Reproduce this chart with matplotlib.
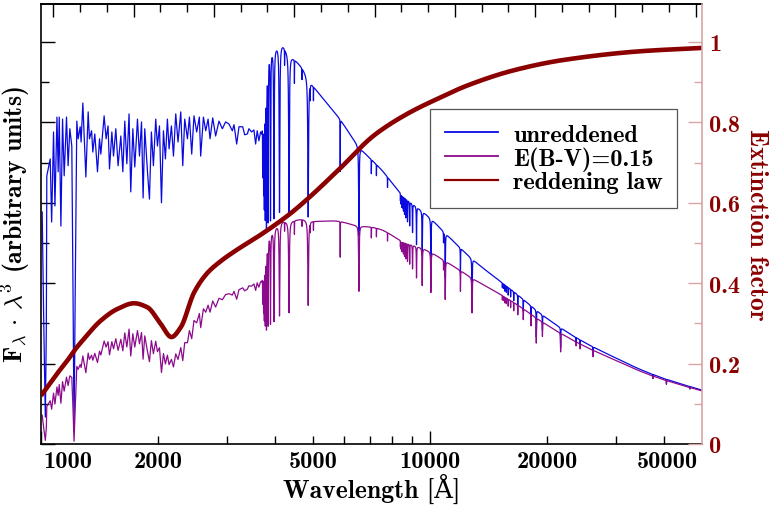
import numpy as np
import matplotlib.pyplot as plt
from matplotlib.ticker import FixedLocator, FuncFormatter, NullFormatter
from matplotlib.lines import Line2D

plt.rcParams['font.family'] = ['cmb10', 'DejaVu Serif']
plt.rcParams['mathtext.fontset'] = 'cm'
plt.rcParams['axes.unicode_minus'] = False
plt.rcParams['axes.formatter.use_mathtext'] = True

BLUE = '#0a0ae0'
PURPLE = '#8c0a8c'
DARKRED = '#8b0000'
PINK = '#d8a4a4'
FS_TICK = 17.5
FS_LABEL = 18.5

# --- UV part of the model spectrum (F_lambda * lambda^3), hand traced vertices
uv_wave = [1007, 1017, 1026, 1032, 1035, 1056, 1065, 1077, 1086, 1099, 1107, 1114,
           1125, 1136, 1147, 1163, 1174, 1186, 1200, 1209, 1216, 1224, 1236, 1246,
           1261, 1268, 1281, 1291, 1304, 1322, 1332, 1349, 1359, 1375, 1397, 1414,
           1425, 1453, 1470, 1487, 1500, 1521, 1536, 1557, 1578, 1604, 1623, 1642,
           1662, 1684, 1701, 1722, 1742, 1770, 1791, 1813, 1830, 1848, 1878, 1900,
           1922, 1945, 1972, 1992, 2016, 2040, 2064, 2088, 2113, 2134, 2164, 2190,
           2220, 2250, 2287, 2314, 2341, 2379, 2407, 2440, 2473, 2513, 2553, 2573,
           2615, 2651, 2688, 2719, 2763, 2811, 2867, 2925, 2982, 3041, 3103, 3134,
           3184, 3228, 3299, 3338, 3391, 3423, 3478, 3526, 3562, 3595, 3631, 3668,
           3700]
uv_flux = [0.577, 0.286, 0.067, 0.286, 0.667, 0.709, 0.552, 0.776, 0.592, 0.813, 0.677, 0.813,
           0.542, 0.808, 0.667, 0.813, 0.692, 0.784, 0.741, 0.361, 0.030, 0.361, 0.803, 0.759,
           0.789, 0.751, 0.848, 0.766, 0.664, 0.826, 0.759, 0.779, 0.726, 0.771, 0.677, 0.759,
           0.721, 0.816, 0.759, 0.791, 0.684, 0.776, 0.716, 0.784, 0.692, 0.766, 0.677, 0.803,
           0.697, 0.821, 0.627, 0.784, 0.689, 0.808, 0.716, 0.801, 0.612, 0.784, 0.677, 0.609,
           0.776, 0.692, 0.808, 0.741, 0.791, 0.600, 0.779, 0.709, 0.808, 0.734, 0.791, 0.716,
           0.821, 0.751, 0.826, 0.692, 0.808, 0.759, 0.813, 0.721, 0.816, 0.776, 0.813, 0.716,
           0.813, 0.779, 0.808, 0.759, 0.811, 0.766, 0.803, 0.784, 0.801, 0.796, 0.779, 0.794,
           0.746, 0.789, 0.789, 0.769, 0.771, 0.784, 0.776, 0.781, 0.746, 0.779, 0.754, 0.776,
           0.770]

# --- optical / IR continuum and absorption lines
cont_wave = [3700, 3740, 3780, 3820, 3860, 3950, 4150, 4300, 4650, 5000, 5820, 6563,
             7530, 8440, 10000, 11000, 12940, 16400, 20000, 24300, 30000, 35800, 42000, 50000]
cont_flux = [0.785, 0.81, 0.87, 0.935, 0.975, 0.985, 0.995, 0.975, 0.94, 0.892, 0.812, 0.74,
             0.68, 0.622, 0.562, 0.522, 0.457, 0.379, 0.312, 0.259, 0.214, 0.180, 0.156, 0.134]

line_wave = [3712, 3722, 3734, 3750, 3771, 3798, 3835, 3889, 3970, 4102, 4227, 4340,
             4481, 4686, 4861, 4921, 5015, 5876, 6563, 7065, 7281, 7774,
             8392, 8413, 8438, 8467, 8502, 8545, 8598, 8665, 8750, 8863, 9015, 9229,
             9546, 10049, 10830, 10938, 11970, 12818,
             15341, 15439, 15556, 15701, 15881, 16109, 16407, 16806, 17362, 18174,
             18751, 19445, 21655, 23740, 24310, 26252, 37395, 40512, 46525]
line_depth = [0.12, 0.16, 0.22, 0.28, 0.34, 0.40, 0.42, 0.43, 0.43, 0.42, 0.04, 0.41,
              0.06, 0.03, 0.38, 0.04, 0.04, 0.16, 0.30, 0.05, 0.04, 0.04,
              0.03, 0.04, 0.04, 0.05, 0.05, 0.06, 0.07, 0.08, 0.09, 0.10, 0.12, 0.16,
              0.19, 0.21, 0.05, 0.21, 0.12, 0.21,
              0.03, 0.03, 0.04, 0.04, 0.05, 0.05, 0.06, 0.07, 0.08, 0.09,
              0.20, 0.12, 0.17, 0.04, 0.05, 0.07, 0.04, 0.06, 0.03]
line_width = [1.5, 1.8, 2.2, 2.6, 3, 3.5, 4.5, 5.5, 7, 9, 2, 10,
              2, 2, 12, 2, 2, 2.5, 12, 3, 3, 3,
              4, 4, 4, 4, 5, 5, 5, 6, 7, 8, 9, 10,
              12, 14, 6, 15, 10, 18,
              8, 8, 8, 9, 9, 10, 10, 12, 12, 14,
              18, 16, 20, 12, 12, 18, 20, 25, 25]

# --- extinction factor for E(B-V)=0.15
ext_wave = [1000, 1100, 1170, 1217, 1291, 1425, 1573, 1735, 1877, 2030, 2164, 2286,
            2475, 2675, 2900, 3200, 3600, 3970, 4400, 4837, 5893, 7166, 8733, 10640,
            12500, 16500, 22000, 35000, 50000]
ext_factor = [0.120, 0.175, 0.208, 0.232, 0.262, 0.307, 0.336, 0.350, 0.340, 0.299, 0.266, 0.290,
              0.377, 0.425, 0.455, 0.484, 0.515, 0.543, 0.575, 0.609, 0.687, 0.767, 0.821, 0.862,
              0.892, 0.930, 0.955, 0.977, 0.985]


def pchip(x, y, xn):
    # monotone cubic (Fritsch-Carlson) through the knots
    x = np.asarray(x, float)
    y = np.asarray(y, float)
    h = np.diff(x)
    d = np.diff(y) / h
    m = np.zeros_like(y)
    m[0], m[-1] = d[0], d[-1]
    for k in range(1, len(x) - 1):
        if d[k - 1] * d[k] > 0:
            w1 = 2 * h[k] + h[k - 1]
            w2 = h[k] + 2 * h[k - 1]
            m[k] = (w1 + w2) / (w1 / d[k - 1] + w2 / d[k])
    i = np.clip(np.searchsorted(x, xn) - 1, 0, len(x) - 2)
    t = (xn - x[i]) / h[i]
    h00 = 2 * t**3 - 3 * t**2 + 1
    h10 = t**3 - 2 * t**2 + t
    h01 = -2 * t**3 + 3 * t**2
    h11 = t**3 - t**2
    return h00 * y[i] + h10 * h[i] * m[i] + h01 * y[i + 1] + h11 * h[i] * m[i + 1]


def ext_at(w):
    return pchip(np.log10(ext_wave), ext_factor, np.log10(w))


# build the full spectrum
opt_wave = np.geomspace(3705, 50000, 14000)
opt_flux = pchip(np.log10(cont_wave), cont_flux, np.log10(opt_wave))
for w0, dep, g in zip(line_wave, line_depth, line_width):
    opt_flux *= 1 - dep / (1 + ((opt_wave - w0) / g) ** 2)

wave = np.concatenate([uv_wave, opt_wave])
flux = np.concatenate([uv_flux, opt_flux])
reddened = flux * ext_at(wave)
law_wave = np.geomspace(1000, 50000, 1500)

fig = plt.figure(figsize=(7.76, 5.10), dpi=100)
ax = fig.add_axes([41 / 776, 65 / 510, 661 / 776, 440.3 / 510])
ax.plot(wave, flux, color=BLUE, lw=0.9)
ax.plot(wave, reddened, color=PURPLE, lw=0.9)
ax.set_xscale('log')
ax.set_xlim(1000, 50000)
ax.set_ylim(0, 1.095)

axr = ax.twinx()
axr.plot(law_wave, ext_at(law_wave), color=DARKRED, lw=3.3, solid_capstyle='butt')
axr.set_ylim(0, 1.095)

# x axis ticks
ax.xaxis.set_major_locator(FixedLocator([1000, 10000]))
ax.xaxis.set_minor_locator(FixedLocator([2000, 3000, 4000, 5000, 6000, 7000, 8000, 9000,
                                         20000, 30000, 40000]))
xlabels = {2000: '2000', 5000: '5000', 10000: '10000', 20000: '20000'}
fmt = FuncFormatter(lambda v, p: xlabels.get(int(round(v)), ''))
ax.xaxis.set_major_formatter(fmt)
ax.xaxis.set_minor_formatter(fmt)
ax.tick_params(axis='x', which='major', direction='in', length=9.5, width=1,
               labelsize=FS_TICK, pad=4)
ax.tick_params(axis='x', which='minor', direction='in', length=5.5, width=1,
               labelsize=FS_TICK, pad=4)
ax.annotate('1000', xy=(0, 0), xycoords='axes fraction', xytext=(2, -4),
            textcoords='offset points', ha='left', va='top', fontsize=FS_TICK)
ax.annotate('50000', xy=(1, 0), xycoords='axes fraction', xytext=(-3, -4),
            textcoords='offset points', ha='right', va='top', fontsize=FS_TICK)

# left axis: ticks only
ax.yaxis.set_major_locator(FixedLocator(np.arange(0, 1.01, 0.2)))
ax.yaxis.set_minor_locator(FixedLocator(np.arange(0.1, 1.01, 0.2)))
ax.yaxis.set_major_formatter(NullFormatter())
ax.tick_params(axis='y', which='major', direction='in', length=10, width=1)
ax.tick_params(axis='y', which='minor', direction='in', length=6, width=1)

# top ticks, evenly spaced
top = ax.secondary_xaxis('top', functions=(np.log10, lambda v: 10 ** v))
top_ticks = 3.0316 + 0.0688 * np.arange(25)
top.xaxis.set_major_locator(FixedLocator(top_ticks[::3]))
top.xaxis.set_minor_locator(FixedLocator(top_ticks))
top.xaxis.set_major_formatter(NullFormatter())
top.xaxis.set_minor_formatter(NullFormatter())
top.tick_params(which='major', direction='in', length=9, width=1)
top.tick_params(which='minor', direction='in', length=5.5, width=1)

# right axis
axr.yaxis.set_major_locator(FixedLocator([0, 0.2, 0.4, 0.6, 0.8, 1.0]))
axr.yaxis.set_minor_locator(FixedLocator([0.1, 0.3, 0.5, 0.7, 0.9]))
axr.yaxis.set_major_formatter(FuncFormatter(lambda v, p: '%g' % round(v, 1)))
axr.tick_params(axis='y', which='major', direction='in', length=10, width=1,
                color=PINK, labelcolor=DARKRED, labelsize=FS_TICK, pad=5)
axr.tick_params(axis='y', which='minor', direction='in', length=6, width=1, color=PINK)
for side in ['left', 'top', 'bottom']:
    axr.spines[side].set_visible(False)
axr.spines['right'].set_color(PINK)
axr.spines['right'].set_linewidth(1.2)
ax.spines['right'].set_visible(False)
for side in ['left', 'top', 'bottom']:
    ax.spines[side].set_linewidth(1.2)
top.spines['top'].set_linewidth(1.2)

ax.set_xlabel('Wavelength [Å]', fontsize=FS_LABEL, labelpad=1)
ax.set_ylabel(r'F$_\lambda\,\cdot\,\lambda^3$ (arbitrary units)', fontsize=FS_LABEL, labelpad=3)
axr.set_ylabel('Extinction factor', color=DARKRED, fontsize=FS_LABEL, rotation=-90,
               labelpad=20)

handles = [Line2D([], [], color=BLUE, lw=1.3),
           Line2D([], [], color=PURPLE, lw=1.3),
           Line2D([], [], color=DARKRED, lw=1.6)]
leg = axr.legend(handles, ['unreddened', 'E(B-V)=0.15', 'reddening law'],
                 loc='upper left', bbox_to_anchor=(0.589, 0.76), fontsize=FS_TICK,
                 frameon=True, fancybox=False, framealpha=1, edgecolor='#555555',
                 handlelength=2.2, handletextpad=0.6, labelspacing=0.02,
                 borderpad=0.6, borderaxespad=0)
leg.get_frame().set_linewidth(0.9)

fig.savefig('out.png', dpi=100)
